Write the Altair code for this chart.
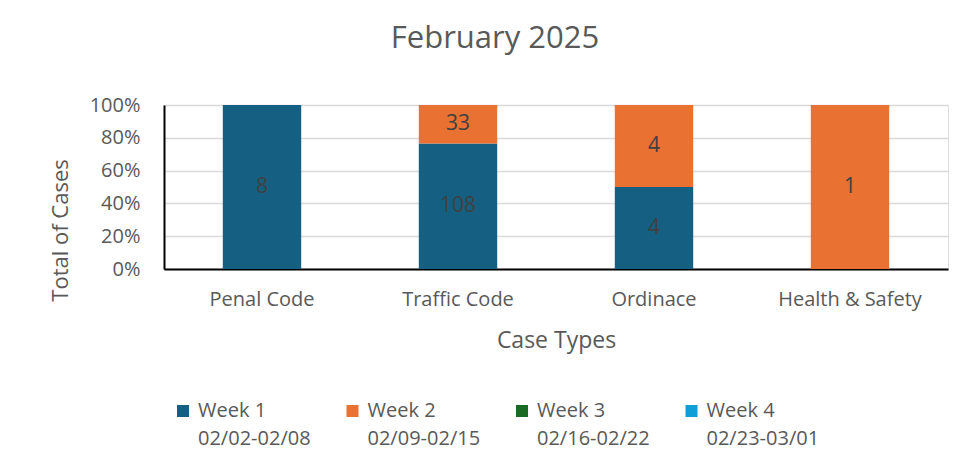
import altair as alt
import pandas as pd

cases = ["Penal Code", "Traffic Code", "Ordinace", "Health & Safety"]
weeks = ["Week 1", "Week 2", "Week 3", "Week 4"]
ranges = ["02/02-02/08", "02/09-02/15", "02/16-02/22", "02/23-03/01"]
week1 = [8, 108, 4, 0]
week2 = [0, 33, 4, 1]
week3 = [0, 0, 0, 0]
week4 = [0, 0, 0, 0]
colors = ["#156082", "#E97132", "#196B24", "#0F9ED5"]

series_vals = [week1, week2, week3, week4]
labels = [f"{w}\n{r}" for w, r in zip(weeks, ranges)]
rows = []
for si, (lab, vals) in enumerate(zip(labels, series_vals)):
    for ci, c in enumerate(cases):
        if vals[ci] > 0:
            rows.append({"case": c, "series": lab, "idx": si, "value": vals[ci]})
df = pd.DataFrame(rows)

FONT = "Open Sans"
GREY = "#595959"

base = alt.Chart(df).transform_stack(
    stack="value", groupby=["case"], as_=["lo", "hi"], offset="normalize",
    sort=[alt.SortField("idx", order="ascending")]
).transform_calculate(mid="(datum.lo + datum.hi) / 2")

x_axis = alt.Axis(title="Case Types", labelAngle=0, labelFontSize=20, labelColor=GREY,
                  labelFont=FONT, labelPadding=20, ticks=False, domainColor="black",
                  domainWidth=2, titleFontSize=23, titleFont=FONT, titleColor=GREY,
                  titleFontWeight="normal", titlePadding=20)
y_axis = alt.Axis(title="Total of Cases", format="%", values=[0, 0.2, 0.4, 0.6, 0.8, 1],
                  labelFontSize=20, labelColor=GREY, labelFont=FONT, ticks=False,
                  labelOverlap=False, labelPadding=24, domainColor="black",
                  domainWidth=2, gridColor="#d9d9d9", gridWidth=1.5,
                  titleFontSize=22, titleFont=FONT, titleColor=GREY,
                  titleFontWeight="normal", titleX=-92, titleY=125)
x_scale = alt.Scale(paddingInner=0.6, paddingOuter=0.3)
y_scale = alt.Scale(domain=[0, 1])

bars = base.mark_bar().encode(
    x=alt.X("case:N", sort=cases, scale=x_scale, axis=x_axis),
    y=alt.Y("lo:Q", scale=y_scale, axis=y_axis),
    y2="hi:Q",
    color=alt.Color("series:N", scale=alt.Scale(domain=labels, range=colors),
                    legend=alt.Legend(title=None, orient="none", legendX=9, legendY=296,
                                      direction="horizontal", columns=4, gridAlign="all",
                                      columnPadding=31.5, symbolType="square", symbolSize=144,
                                      symbolStrokeWidth=0, labelFontSize=20, labelFont=FONT,
                                      labelColor=GREY, labelOffset=5, labelLimit=220,
                                      labelExpr="split(datum.label, '\\n')")),
)

text = base.mark_text(fontSize=21, font=FONT, color="#404040").encode(
    x=alt.X("case:N", sort=cases, scale=x_scale, axis=x_axis),
    y=alt.Y("mid:Q", scale=y_scale, axis=y_axis),
    text=alt.Text("value:Q"),
)

chart = (bars + text).properties(
    width=784, height=164,
    title=alt.TitleParams("February 2025", fontSize=31, font=FONT, color=GREY,
                          fontWeight="normal", offset=40, dx=-61),
    autosize=alt.AutoSizeParams(type="none"),
    padding={"left": 156, "top": 97, "right": 4, "bottom": 195},
).configure_view(stroke=None).configure(
    background="white", style={"guide-label": {"lineHeight": 28}}
)

chart.save("out.html", embed_options={"renderer": "svg", "actions": False})
